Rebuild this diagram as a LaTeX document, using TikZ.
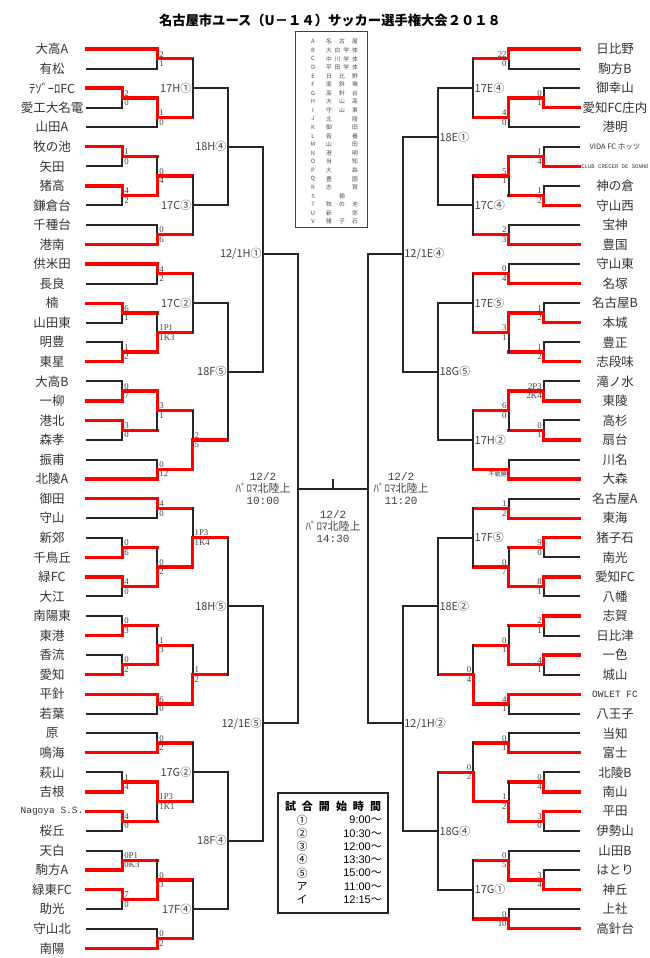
\documentclass[tikz,border=0pt]{standalone}
\usepackage{fontspec}
\setmainfont{Liberation Serif}
\setsansfont{Liberation Sans}
\setmonofont{Liberation Mono}
\newfontfamily\jp{Noto Sans CJK JP}
\usepackage{tikz}
\usetikzlibrary{positioning}

\newcommand{\fsz}[1]{\fontsize{#1}{#1}\selectfont}
\newcommand{\ttnm}{\ttfamily\fsz{9.5}}
\newcommand{\vida}{\jp\fsz{7.5}}
\newcommand{\club}{\ttfamily\fsz{5.6}}
\newcommand{\fusen}{\jp\fsz{6}}
\newcommand{\lx}[1]{87+35.17*#1}
\newcommand{\rx}[1]{579-35.17*#1}

\begin{document}
\begin{tikzpicture}[x=1pt, y=-1pt,
  ln/.style={line width=2pt, line cap=rect, black!85},
  win/.style={line width=3.3pt, line cap=rect, red},
  team/.style={font=\jp\fsz{12.5}, text=black!80, inner sep=0pt},
  sc/.style={font=\fsz{8.8}, text=black!75, inner sep=0.4pt},
  lab/.style={font=\jp\fsz{11}, text=black!75, inner sep=0.5pt},
  venue/.style={align=center, font=\jp\fsz{11}, text=black!75, inner sep=0pt},
  leg/.style={font=\jp\fsz{5.8}, text=black!70, inner sep=0pt},
  tt/.style={font=\jp\fsz{11}, inner sep=0pt},
]
\useasboundingbox (0,0) rectangle (650,958);

\node[font=\jp\bfseries\fsz{13.3}] (title) at (330,20)
  {名古屋市ユース（U－１４）サッカー選手権大会２０１８};

\begin{scope}[yshift=-49pt, y=-9.775pt]
% left half: team lines
\foreach \k/\lv/\st/\t in {0/2/win/大高A, 2/2/ln/有松, 4/1/win/ﾃｿﾞｰﾛFC,
  6/1/ln/愛工大名電, 8/2/ln/山田A, 10/1/win/牧の池, 12/1/ln/矢田,
  14/1/win/猪高, 16/1/ln/鎌倉台, 18/2/ln/千種台, 20/2/win/港南,
  22/2/win/供米田, 24/2/ln/長良, 26/1/win/楠, 28/1/ln/山田東,
  30/1/ln/明豊, 32/1/win/東星, 34/1/ln/大高B, 36/1/win/一柳,
  38/1/win/港北, 40/1/ln/森孝, 42/2/ln/振甫, 44/2/win/北陵A,
  46/2/win/御田, 48/2/ln/守山, 50/1/ln/新郊, 52/1/win/千鳥丘,
  54/1/win/緑FC, 56/1/ln/大江, 58/1/ln/南陽東, 60/1/win/東港,
  62/1/ln/香流, 64/1/win/愛知, 66/2/win/平針, 68/2/ln/若葉,
  70/2/ln/原, 72/2/win/鳴海, 74/1/ln/萩山, 76/1/win/吉根,
  78/1/win/{\ttnm Nagoya S.S.}, 80/1/ln/桜丘, 82/1/ln/天白,
  84/1/win/駒方A, 86/1/win/緑東FC, 88/1/ln/助光, 90/2/ln/守山北,
  92/2/win/南陽}{
  \draw[\st] (87,\k) -- ({\lx{\lv}},\k);
  \node[team] (tl\k) at (52,\k) {\t};
}
% left half: played matches
\foreach \lv/\ka/\kb/\ko/\kw/\p/\q in {1/4/6/5/4/2/0, 1/10/12/11/10/1/0,
  1/14/16/15/14/4/2, 1/26/28/27/26/6/1, 1/30/32/31/32/1/2,
  1/34/36/35/36/0/7, 1/38/40/39/38/3/0, 1/50/52/51/52/0/6,
  1/54/56/55/54/4/0, 1/58/60/59/60/0/3, 1/62/64/63/64/0/2,
  1/74/76/75/76/1/4, 1/78/80/79/78/4/0, 1/82/84/83/84/0P1/0K3,
  1/86/88/87/86/7/0,
  2/0/2/1/0/2/1, 2/5/8/7/5/1/0, 2/11/15/13/15/0/4, 2/18/20/19/20/0/6,
  2/22/24/23/22/4/2, 2/27/31/29/31/1P1/1K3, 2/35/39/37/35/3/1,
  2/42/44/43/44/0/12, 2/46/48/47/46/4/0, 2/51/55/53/55/0/2,
  2/59/63/61/63/1/3, 2/66/68/67/66/6/0, 2/70/72/71/72/0/2,
  2/75/79/77/75/1P3/1K1, 2/83/87/85/87/0/3, 2/90/92/91/92/0/2,
  3/37/43/40/43/2/5, 3/47/53/50/53/1P3/1K4, 3/61/67/64/67/1/2}{
  \pgfmathsetmacro\xx{\lx{\lv}}
  \draw[ln] (\xx,\ka) -- (\xx,\kb);
  \draw[win] (\xx,\kw) -- (\xx,\ko) -- ({\xx+35.17},\ko);
  \node[sc, anchor=south west] (lu\lv-\ko) at ({\xx+1.5},{\ko-0.12}) {\p};
  \node[sc, anchor=north west] (ld\lv-\ko) at ({\xx+1.5},{\ko+0.12}) {\q};
}
% left half: matches still to come
\foreach \lv/\ka/\kb/\ko/\t in {3/1/7/4/17H①, 3/13/19/16/17C③,
  3/23/29/26/17C②, 3/71/77/74/17G②, 3/85/91/88/17F④,
  4/4/16/10/18H④, 4/26/40/33/18F⑤, 4/50/64/57/18H⑤, 4/74/88/81/18F④}{
  \pgfmathsetmacro\xx{\lx{\lv}}
  \draw[ln] (\xx,\ka) -- (\xx,\kb);
  \draw[ln] (\xx,\ko) -- ({\xx+35.17},\ko);
  \node[lab, anchor=east] (ll\lv-\ko) at ({\xx-0.5},\ko) {\t};
}
\draw[ln] ({\lx{5}},10) -- ({\lx{5}},33);
\draw[ln] ({\lx{5}},21) -- ({\lx{6}},21);
\node[lab, anchor=east] (lsf1) at ({\lx{5}-0.5},21) {12/1H①};
\draw[ln] ({\lx{5}},57) -- ({\lx{5}},81);
\draw[ln] ({\lx{5}},69) -- ({\lx{6}},69);
\node[lab, anchor=east] (lsf2) at ({\lx{5}-0.5},69) {12/1E⑤};

% right half: team lines
\foreach \k/\lv/\st/\t in {0/2/win/日比野, 2/2/ln/駒方B, 4/1/ln/御幸山,
  6/1/win/愛知FC庄内, 8/2/ln/港明, 10/1/ln/{\vida VIDA FC ホッツ},
  12/1/win/{\club CLUB CRECER DE SONHO}, 14/1/ln/神の倉, 16/1/win/守山西,
  18/2/ln/宝神, 20/2/win/豊国, 22/2/ln/守山東, 24/2/win/名塚,
  26/1/ln/名古屋B, 28/1/win/本城, 30/1/ln/豊正, 32/1/win/志段味,
  34/1/ln/滝ノ水, 36/1/win/東陵, 38/1/ln/高杉, 40/1/win/扇台,
  42/2/ln/川名, 44/2/win/大森, 46/2/ln/名古屋A, 48/2/win/東海,
  50/1/win/猪子石, 52/1/ln/南光, 54/1/win/愛知FC, 56/1/ln/八幡,
  58/1/win/志賀, 60/1/ln/日比津, 62/1/win/一色, 64/1/ln/城山,
  66/2/win/{\ttnm OWLET FC}, 68/2/ln/八王子, 70/2/ln/当知, 72/2/win/富士,
  74/1/ln/北陵B, 76/1/win/南山, 78/1/win/平田, 80/1/ln/伊勢山,
  82/2/ln/山田B, 84/1/ln/はとり, 86/1/win/神丘, 88/2/ln/上社,
  90/2/win/高針台}{
  \draw[\st] (579,\k) -- ({\rx{\lv}},\k);
  \node[team] (tr\k) at (615,\k) {\t};
}
% right half: played matches
\foreach \lv/\ka/\kb/\ko/\kw/\p/\q in {1/4/6/5/6/0/1, 1/10/12/11/12/1/4,
  1/14/16/15/16/1/2, 1/26/28/27/28/1/2, 1/30/32/31/32/1/2,
  1/34/36/35/36/2P3/2K4, 1/38/40/39/40/0/1, 1/50/52/51/50/9/0,
  1/54/56/55/54/8/1, 1/58/60/59/58/2/1, 1/62/64/63/62/4/1,
  1/74/76/75/76/0/4, 1/78/80/79/78/3/0, 1/84/86/85/86/3/4,
  2/0/2/1/0/22/0, 2/5/8/7/5/4/0, 2/11/15/13/11/5/1, 2/18/20/19/20/2/3,
  2/22/24/23/24/0/4, 2/27/31/29/27/3/1, 2/35/39/37/35/6/0,
  2/42/44/43/44/{}/{\fusen 不戦勝}, 2/46/48/47/48/1/2,
  2/51/55/53/55/0/7, 2/59/63/61/63/0/1, 2/66/68/67/66/4/1,
  2/70/72/71/72/0/1, 2/75/79/77/79/1/2, 2/82/85/83/85/0/5,
  2/88/90/89/90/0/10,
  3/61/67/64/67/0/4, 3/71/77/74/77/0/2}{
  \pgfmathsetmacro\xx{\rx{\lv}}
  \draw[ln] (\xx,\ka) -- (\xx,\kb);
  \draw[win] (\xx,\kw) -- (\xx,\ko) -- ({\xx-35.17},\ko);
  \node[sc, anchor=south east] (ru\lv-\ko) at ({\xx-1.5},{\ko-0.12}) {\p};
  \node[sc, anchor=north east] (rd\lv-\ko) at ({\xx-1.5},{\ko+0.12}) {\q};
}
% right half: matches still to come
\foreach \lv/\ka/\kb/\ko/\t in {3/1/7/4/17E④, 3/13/19/16/17C④,
  3/23/29/26/17E⑤, 3/37/43/40/17H②, 3/47/53/50/17F⑤, 3/83/89/86/17G①,
  4/4/16/9/18E①, 4/26/40/33/18G⑤, 4/50/64/57/18E②, 4/74/86/80/18G④}{
  \pgfmathsetmacro\xx{\rx{\lv}}
  \draw[ln] (\xx,\ka) -- (\xx,\kb);
  \draw[ln] (\xx,\ko) -- ({\xx-35.17},\ko);
  \node[lab, anchor=west] (rl\lv-\ko) at ({\xx+0.5},\ko) {\t};
}
\draw[ln] ({\rx{5}},9) -- ({\rx{5}},33);
\draw[ln] ({\rx{5}},21) -- ({\rx{6}},21);
\node[lab, anchor=west] (rsf1) at ({\rx{5}+0.5},21) {12/1E④};
\draw[ln] ({\rx{5}},57) -- ({\rx{5}},80);
\draw[ln] ({\rx{5}},69) -- ({\rx{6}},69);
\node[lab, anchor=west] (rsf2) at ({\rx{5}+0.5},69) {12/1H②};

% final
\coordinate (fl) at ({\lx{6}},45);
\coordinate (fr) at ({\rx{6}},45);
\coordinate (ftop) at (333,44.1);
\draw[ln] ({\lx{6}},21) -- ({\lx{6}},69);
\draw[ln] ({\rx{6}},21) -- ({\rx{6}},69);
\draw[ln] (fl) -- (fr);
\draw[ln] (333,45) -- (ftop);
\node[venue] (vl) at (263,45) {{\ttfamily 12/2}\\[1pt] ﾊﾟﾛﾏ北陸上\\[1pt] {\ttfamily 10:00}};
\node[venue] (vr) at (401,45) {{\ttfamily 12/2}\\[1pt] ﾊﾟﾛﾏ北陸上\\[1pt] {\ttfamily 11:20}};
\node[venue] (vc) at (333,48.9) {{\ttfamily 12/2}\\[1pt] ﾊﾟﾛﾏ北陸上\\[1pt] {\ttfamily 14:30}};
\end{scope}

% venue key
\draw[line width=1pt, black!75] (295,32) rectangle (367,227);
\foreach \i/\c/\t in {0/A/名\hfill 古\hfill 屋, 1/B/大\hfill 白\hfill 学\hfill 体,
  2/C/中\hfill 川\hfill 学\hfill 体, 3/D/平\hfill 田\hfill 学\hfill 体,
  4/E/日\hfill 比\hfill 野, 5/F/南\hfill 斜\hfill 場, 6/G/高\hfill 針\hfill 台,
  7/H/大\hfill 山\hfill 高, 8/I/守\hfill 山\hfill 東, 9/J/北\hfill 陵,
  10/K/御\hfill 田, 11/L/若\hfill 養, 12/M/山\hfill 田, 13/N/港\hfill 明,
  14/O/当\hfill 知, 15/P/大\hfill 森, 16/Q/豊\hfill 国, 17/R/志\hfill 賀,
  18/S/\hfill 楠\hfill\null, 19/T/牧\hfill の\hfill 池, 20/U/新\hfill 郊,
  21/V/猪\hfill 子\hfill 石}{
  \node[leg] (kc\i) at (313,{41.7+8.57*\i}) {\c};
  \node[leg, text width=32pt] (kn\i) at (342,{41.7+8.57*\i}) {\t};
}

% start times
\draw[line width=1.3pt, black!85] (278,793) rectangle (388,913);
\node[tt, font=\jp\bfseries\fsz{11}] (tthead) at (333,806)
  {試\hspace{6pt}合\hspace{6pt}開\hspace{6pt}始\hspace{6pt}時\hspace{6pt}間};
\foreach \i/\m/\t in {0/①/9:00, 1/②/10:30, 2/③/12:00, 3/④/13:30,
  4/⑤/15:00, 5/ア/11:00, 6/イ/12:15}{
  \node[tt] (ttn\i) at (302,{820+13.25*\i}) {\m};
  \node[tt, anchor=east] (ttt\i) at (382,{820+13.25*\i}) {{\sffamily\t}～};
}
\end{tikzpicture}
\end{document}
